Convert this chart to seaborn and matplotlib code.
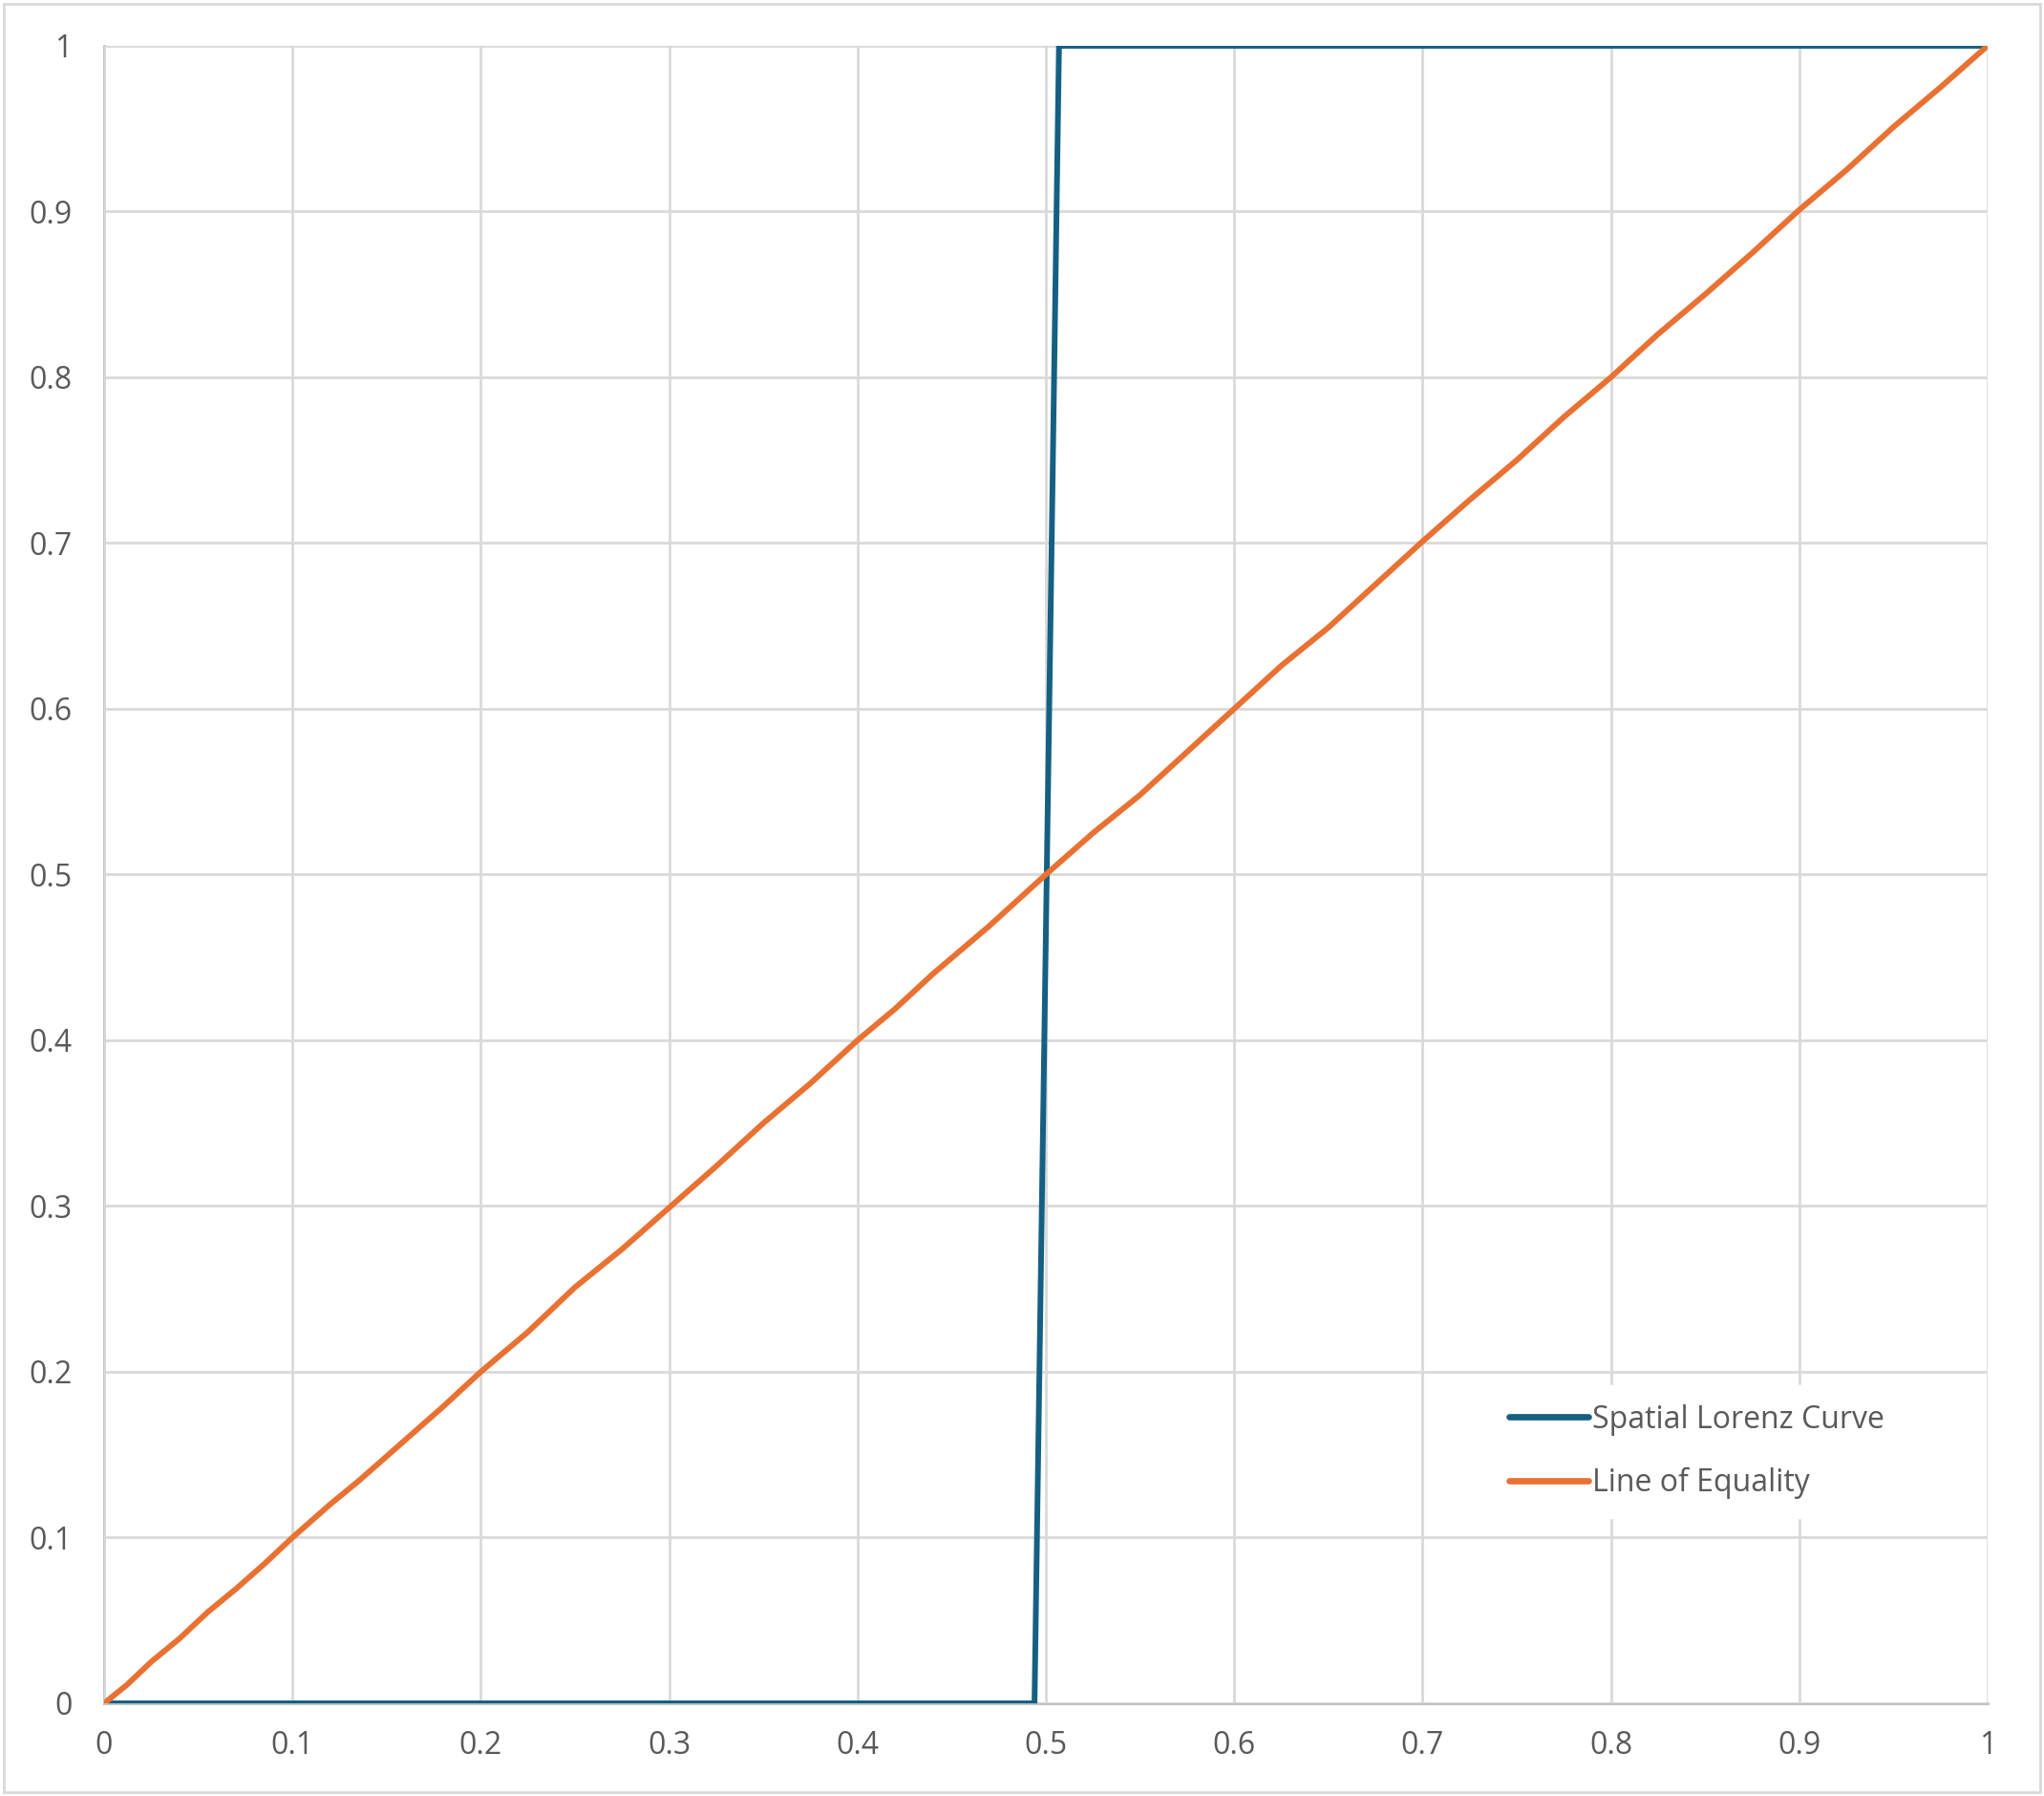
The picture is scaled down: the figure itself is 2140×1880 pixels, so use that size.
import numpy as np
import pandas as pd
import matplotlib.pyplot as plt
import matplotlib.patches as patches
import seaborn as sns

sns.set_style("white")
plt.rcParams['font.family'] = ['Open Sans', 'DejaVu Sans']

# Spatial Lorenz curve (step near 0.5)
lorenz_x = [0.0, 0.494, 0.507, 1.0]
lorenz_y = [0.0, 0.0, 1.0, 1.0]

# Line of equality (slightly jagged as in the source)
equal_x = [0.0, 0.012, 0.025, 0.04, 0.055, 0.07, 0.085, 0.1, 0.12, 0.135, 0.16, 0.18,
           0.2, 0.225, 0.25, 0.275, 0.3, 0.325, 0.35, 0.375, 0.4, 0.42, 0.44, 0.47,
           0.5, 0.525, 0.55, 0.575, 0.6, 0.625, 0.65, 0.675, 0.7, 0.725, 0.75, 0.775,
           0.8, 0.825, 0.85, 0.875, 0.9, 0.925, 0.95, 0.975, 1.0]
equal_y = [0.0, 0.011, 0.025, 0.039, 0.055, 0.069, 0.084, 0.1, 0.12, 0.134, 0.159, 0.179,
           0.2, 0.224, 0.251, 0.274, 0.299, 0.324, 0.35, 0.374, 0.4, 0.419, 0.44, 0.469,
           0.5, 0.525, 0.548, 0.574, 0.6, 0.626, 0.649, 0.675, 0.701, 0.726, 0.75, 0.776,
           0.8, 0.826, 0.85, 0.875, 0.901, 0.925, 0.951, 0.975, 1.0]

series_names = ["Spatial Lorenz Curve", "Line of Equality"]
colors = ["#156082", "#E97132"]

df = pd.concat([
    pd.DataFrame({"x": lorenz_x, "y": lorenz_y, "series": series_names[0]}),
    pd.DataFrame({"x": equal_x, "y": equal_y, "series": series_names[1]}),
])

fig = plt.figure(figsize=(21.4, 18.8), dpi=100)
ax = fig.add_axes([0.0509, 0.0516, 0.9215, 0.9229])

sns.lineplot(data=df, x="x", y="y", hue="series", palette=colors,
             sort=False, estimator=None, linewidth=4.3, ax=ax,
             solid_capstyle="round", solid_joinstyle="round")

ax.set_xlim(0, 1)
ax.set_ylim(0, 1)
ticks = [0, 0.1, 0.2, 0.3, 0.4, 0.5, 0.6, 0.7, 0.8, 0.9, 1]
tick_labels = ["0", "0.1", "0.2", "0.3", "0.4", "0.5", "0.6", "0.7", "0.8", "0.9", "1"]
ax.set_xticks(ticks)
ax.set_xticklabels(tick_labels)
ax.set_yticks(ticks)
ax.set_yticklabels(tick_labels)
ax.tick_params(axis="both", length=0, labelsize=23, labelcolor="#595959")
ax.tick_params(axis="x", pad=20)
ax.tick_params(axis="y", pad=24)
ax.grid(True, color="#d9d9d9", linewidth=2)
ax.set_axisbelow(True)
for s in ["top", "right"]:
    ax.spines[s].set_visible(False)
for s in ["bottom", "left"]:
    ax.spines[s].set_color("#bfbfbf")
    ax.spines[s].set_linewidth(2)
    ax.spines[s].set_zorder(0.5)
ax.set_xlabel("")
ax.set_ylabel("")

leg = ax.legend(loc="upper left", bbox_to_anchor=(0.722, 0.237), bbox_transform=fig.transFigure,
                fontsize=23, frameon=True, handlelength=2.6, handletextpad=0.12,
                labelspacing=1.05, borderpad=0.6)
leg.get_frame().set_facecolor("white")
leg.get_frame().set_edgecolor("white")
leg.get_frame().set_alpha(1)
for t in leg.get_texts():
    t.set_color("#595959")
for l in leg.get_lines():
    l.set_linewidth(4.8)

fig.patches.append(patches.Rectangle((0.002, 0.002), 0.996, 0.996, transform=fig.transFigure,
                                     fill=False, edgecolor="#d9d9d9", linewidth=2))

plt.savefig("out.png", dpi=100)
